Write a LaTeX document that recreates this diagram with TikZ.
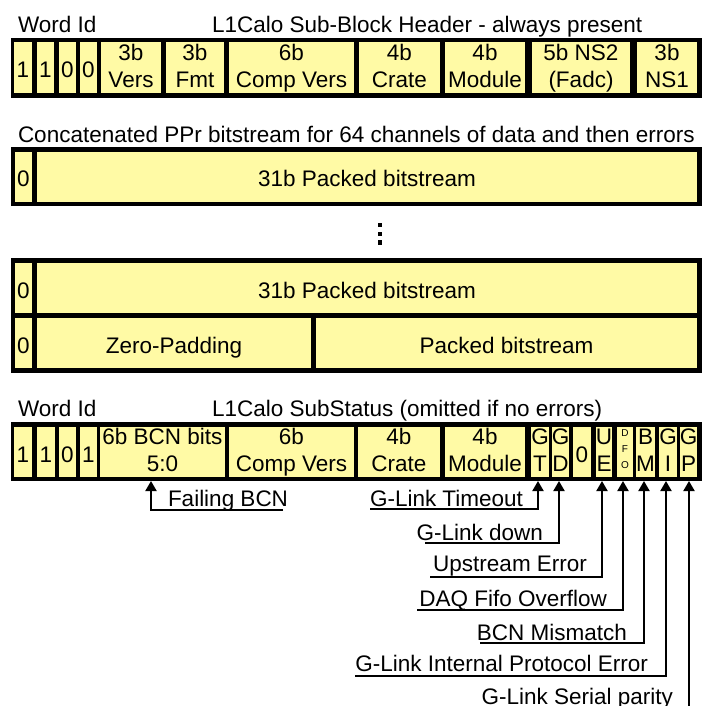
\documentclass[tikz,border=0pt]{standalone}
\usepackage{fontspec}
\setmainfont{Liberation Sans}
\usetikzlibrary{arrows.meta}
\definecolor{cellyel}{HTML}{FFFAA5}
\newcommand\fs{\fontsize{22.5}{27}\selectfont}
\newcommand\two[2]{\rule{0pt}{17.5pt}#1\\#2\rule[-5pt]{0pt}{5pt}}
\tikzset{
  blk/.style={fill=black, draw=none, inner sep=0pt, outer sep=0pt},
  cell/.style={fill=cellyel, draw=none, inner sep=0pt, outer sep=0pt, align=center, font=\fs},
  one/.style={text height=20pt, text depth=0pt},
  lbl/.style={inner sep=0pt, outer sep=0pt, font=\fs},
  arr/.style={line width=2pt, -{Triangle[width=11pt,length=10pt]}},
}
\begin{document}
\begin{tikzpicture}[x=1pt,y=-1pt]
\useasboundingbox (0,0) rectangle (710,706);
\clip (0,0) rectangle (710,706);
% ---------- header ----------
\node[lbl, anchor=base west] (tw1) at (18,33) {Word Id};
\node[lbl, anchor=base west] (th) at (212,33) {L1Calo Sub-Block Header - always present};
\node[blk, minimum width=691, minimum height=60] (hbg) at (356.5,68) {};
\node[cell, one, minimum width=18, minimum height=51] (h1) at (23,67.5) {1};
\node[cell, one, minimum width=17, minimum height=51] (h2) at (45.5,67.5) {1};
\node[cell, one, minimum width=17, minimum height=51] (h3) at (67.5,67.5) {0};
\node[cell, one, minimum width=17, minimum height=51] (h4) at (88.5,67.5) {0};
\node[cell, minimum width=60, minimum height=51] (h5) at (131,67.5) {\two{3b}{Vers}};
\node[cell, minimum width=58, minimum height=51] (h6) at (195,67.5) {\two{3b}{Fmt}};
\node[cell, minimum width=125, minimum height=51] (h7) at (291.5,67.5) {\two{6b}{Comp Vers}};
\node[cell, minimum width=81, minimum height=51] (h8) at (399.5,67.5) {\two{4b}{Crate}};
\node[cell, minimum width=80, minimum height=51] (h9) at (485,67.5) {\two{4b}{Module}};
\node[cell, minimum width=98, minimum height=51] (h10) at (581,67.5) {\two{5b NS2}{(Fadc)}};
\node[cell, minimum width=60, minimum height=51] (h11) at (667,67.5) {\two{3b}{NS1}};
% ---------- bitstream ----------
\node[lbl, anchor=base west] (tc) at (18,143) {Concatenated PPr bitstream for 64 channels of data and then errors};
\node[blk, minimum width=691, minimum height=59] (r1bg) at (356.5,176.5) {};
\node[cell, one, minimum width=17, minimum height=50] (r1a) at (23.5,177) {0};
\node[cell, one, minimum width=660, minimum height=50] (r1b) at (367,177) {31b Packed bitstream};
\fill (377.8,222.5) rectangle +(4.5,4.5);
\fill (377.8,231.5) rectangle +(4.5,4.5);
\fill (377.8,240) rectangle +(4.5,4.5);
\node[blk, minimum width=691, minimum height=115] (r2bg) at (356.5,315.5) {};
\node[cell, one, minimum width=17, minimum height=50] (r2a) at (23.5,288) {0};
\node[cell, one, minimum width=660, minimum height=50] (r2b) at (367,288) {31b Packed bitstream};
\node[cell, one, minimum width=17, minimum height=50] (r3a) at (23.5,343) {0};
\node[cell, one, minimum width=274, minimum height=50] (r3b) at (174,343) {Zero-Padding};
\node[cell, one, minimum width=381, minimum height=50] (r3c) at (506.5,343) {Packed bitstream};
% ---------- status ----------
\node[lbl, anchor=base west] (tw2) at (18,416) {Word Id};
\node[lbl, anchor=base west] (ts) at (212,416) {L1Calo SubStatus (omitted if no errors)};
\node[blk, minimum width=691, minimum height=59] (sbg) at (356.5,451.5) {};
\node[cell, one, minimum width=18, minimum height=50] (s1) at (23,452) {1};
\node[cell, one, minimum width=18, minimum height=50] (s2) at (46,452) {1};
\node[cell, one, minimum width=17, minimum height=50] (s3) at (67.5,452) {0};
\node[cell, one, minimum width=17, minimum height=50] (s4) at (88.5,452) {1};
\node[cell, minimum width=125, minimum height=50] (s5) at (162.5,452) {\two{6b BCN bits}{5:0}};
\node[cell, minimum width=125, minimum height=50] (s6) at (291.5,452) {\two{6b}{Comp Vers}};
\node[cell, minimum width=82, minimum height=50] (s7) at (399,452) {\two{4b}{Crate}};
\node[cell, minimum width=80, minimum height=50] (s8) at (485,452) {\two{4b}{Module}};
\node[cell, minimum width=16, minimum height=50] (s9) at (540,452) {\two{G}{T}};
\node[cell, minimum width=17, minimum height=50] (s10) at (560.5,452) {\two{G}{D}};
\node[cell, one, minimum width=18, minimum height=50] (s11) at (582,452) {0};
\node[cell, minimum width=16, minimum height=50] (s12) at (604,452) {\two{U}{E}};
\node[cell, minimum width=16, minimum height=50, font=\fontsize{10}{16}\selectfont] (s13) at (625,452) {D\\F\\O\rule[-6pt]{0pt}{6pt}};
\node[cell, minimum width=17, minimum height=50] (s14) at (645.5,452) {\two{B}{M}};
\node[cell, minimum width=18, minimum height=50] (s15) at (668,452) {\two{G}{I}};
\node[cell, minimum width=17, minimum height=50] (s16) at (688.5,452) {\two{G}{P}};
% ---------- error labels ----------
\node[lbl, anchor=base west] (lfail) at (168,506) {Failing BCN};
\node[lbl, anchor=base west] (lgt) at (370,506) {G-Link Timeout};
\node[lbl, anchor=base east] (lgd) at (543,540) {G-Link down};
\node[lbl, anchor=base east] (lue) at (587,571) {Upstream Error};
\node[lbl, anchor=base east] (ldfo) at (607,606) {DAQ Fifo Overflow};
\node[lbl, anchor=base east] (lbm) at (627,640) {BCN Mismatch};
\node[lbl, anchor=base east] (lgi) at (648,671) {G-Link Internal Protocol Error};
\node[lbl, anchor=base east] (lgp) at (673,704) {G-Link Serial parity};
\coordinate (cfail) at (283,510);
\coordinate (cgt) at (370,509);
\coordinate (cgd) at (425,543);
\coordinate (cue) at (430,577);
\coordinate (cdfo) at (417,610);
\coordinate (cbm) at (480,643);
\coordinate (cgi) at (355,676);
\coordinate (cgp) at (470,712);
\draw[arr] (cfail) -| ([xshift=-11.5pt,yshift=-4pt]s5.south);
\draw[arr] (cgt) -| ([xshift=-2pt,yshift=-4pt]s9.south);
\draw[arr] (cgd) -| ([xshift=-1.5pt,yshift=-4pt]s10.south);
\draw[arr] (cue) -| ([xshift=-2pt,yshift=-4pt]s12.south);
\draw[arr] (cdfo) -| ([xshift=-2pt,yshift=-4pt]s13.south);
\draw[arr] (cbm) -| ([xshift=-1.5pt,yshift=-4pt]s14.south);
\draw[arr] (cgi) -| ([xshift=-2pt,yshift=-4pt]s15.south);
\draw[arr] (cgp) -| ([xshift=0.5pt,yshift=-4pt]s16.south);
\end{tikzpicture}
\end{document}
